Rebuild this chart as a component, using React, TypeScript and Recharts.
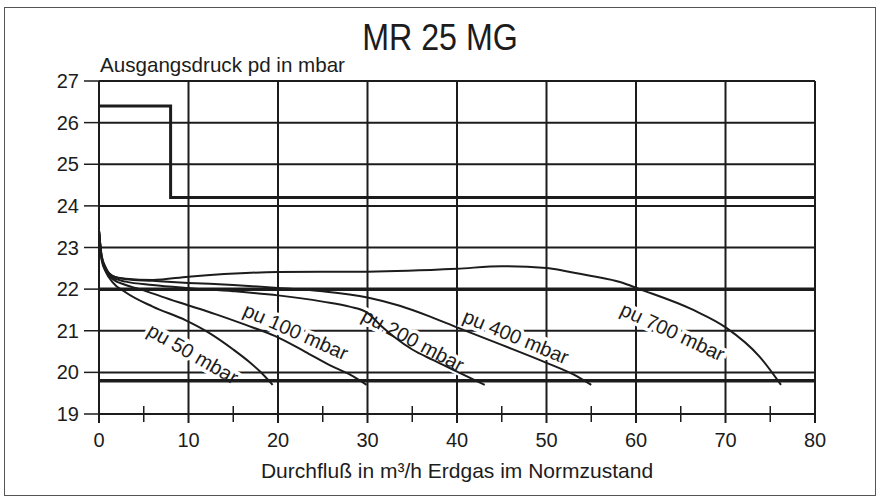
import React from 'react';
import { LineChart, Line, XAxis, YAxis, ReferenceLine, ReferenceDot } from 'recharts';

type Pt = { x: number; y: number };

const xTicks = [0, 10, 20, 30, 40, 50, 60, 70, 80];
const xMinorTicks = [5, 15, 25, 35, 45, 55, 65, 75];
const yTicks = [19, 20, 21, 22, 23, 24, 25, 26, 27];

// setpoint lines (thick)
const limitLines = [22, 19.8];

// closing pressure step
const stepCurve: Pt[] = [
  { x: 0, y: 26.4 },
  { x: 8, y: 26.4 },
  { x: 8, y: 24.2 },
  { x: 80, y: 24.2 },
];

const pu50: Pt[] = [
  { x: 0, y: 23.4 }, { x: 0.3, y: 22.7 }, { x: 0.8, y: 22.4 }, { x: 1.5, y: 22.17 },
  { x: 3, y: 21.92 }, { x: 6, y: 21.58 }, { x: 9.7, y: 21.25 }, { x: 12.3, y: 20.95 },
  { x: 15, y: 20.55 }, { x: 16.8, y: 20.25 }, { x: 18, y: 20.02 }, { x: 19.4, y: 19.7 },
];

const pu100: Pt[] = [
  { x: 0, y: 23.4 }, { x: 0.3, y: 22.72 }, { x: 0.8, y: 22.42 }, { x: 1.5, y: 22.25 },
  { x: 3, y: 22.1 }, { x: 5, y: 21.97 }, { x: 7, y: 21.82 }, { x: 9.7, y: 21.63 },
  { x: 13, y: 21.4 }, { x: 16.4, y: 21.14 }, { x: 19.7, y: 20.87 }, { x: 23, y: 20.5 },
  { x: 26, y: 20.15 }, { x: 28, y: 19.95 }, { x: 29.9, y: 19.7 },
];

const pu200: Pt[] = [
  { x: 0, y: 23.4 }, { x: 0.3, y: 22.75 }, { x: 0.8, y: 22.45 }, { x: 1.5, y: 22.28 },
  { x: 3, y: 22.18 }, { x: 6, y: 22.1 }, { x: 9.7, y: 22.03 }, { x: 15, y: 21.95 },
  { x: 20, y: 21.85 }, { x: 25, y: 21.7 }, { x: 28, y: 21.58 }, { x: 30, y: 21.43 },
  { x: 31.5, y: 21.12 }, { x: 33, y: 20.85 }, { x: 35, y: 20.55 }, { x: 37.3, y: 20.3 },
  { x: 40, y: 20.02 }, { x: 43.1, y: 19.7 },
];

const pu400: Pt[] = [
  { x: 0, y: 23.4 }, { x: 0.3, y: 22.78 }, { x: 0.8, y: 22.48 }, { x: 1.5, y: 22.32 },
  { x: 3, y: 22.24 }, { x: 6, y: 22.2 }, { x: 10, y: 22.15 }, { x: 15, y: 22.1 },
  { x: 20, y: 22.03 }, { x: 25, y: 21.95 }, { x: 30, y: 21.8 }, { x: 33.6, y: 21.6 },
  { x: 37, y: 21.34 }, { x: 40, y: 21.08 }, { x: 45, y: 20.66 }, { x: 50, y: 20.23 },
  { x: 53, y: 19.95 }, { x: 55, y: 19.7 },
];

const pu700: Pt[] = [
  { x: 0, y: 23.4 }, { x: 0.3, y: 22.8 }, { x: 0.8, y: 22.5 }, { x: 1.5, y: 22.32 },
  { x: 3, y: 22.25 }, { x: 6, y: 22.22 }, { x: 10, y: 22.3 }, { x: 20, y: 22.41 },
  { x: 30, y: 22.42 }, { x: 40, y: 22.49 }, { x: 45, y: 22.55 }, { x: 50, y: 22.51 },
  { x: 52.2, y: 22.43 }, { x: 55.2, y: 22.31 }, { x: 58.2, y: 22.17 }, { x: 60.4, y: 22.0 },
  { x: 66.4, y: 21.5 }, { x: 70.1, y: 21.07 }, { x: 73.8, y: 20.38 }, { x: 76.2, y: 19.7 },
];

const curves = [pu50, pu100, pu200, pu400, pu700];

// curve captions: anchor (centre) in data units and slope of the text
const captions = [
  { text: 'pu 50 mbar', x: 10.5, y: 20.45, angle: 30 },
  { text: 'pu 100 mbar', x: 22.0, y: 20.98, angle: 24 },
  { text: 'pu 200 mbar', x: 35.1, y: 20.78, angle: 28 },
  { text: 'pu 400 mbar', x: 46.6, y: 20.86, angle: 22.5 },
  { text: 'pu 700 mbar', x: 64.1, y: 20.98, angle: 25 },
];

const INK = '#1c1c1c';
const FONT = "'Liberation Sans', Arial, Helvetica, sans-serif";

const allXTicks = [...xTicks, ...xMinorTicks].sort((a, b) => a - b);

const XTick = (props: any) => {
  const { x, y, payload } = props;
  const major = payload.value % 10 === 0;
  return (
    <g>
      {major ? (
        <line x1={x} x2={x} y1={y} y2={y + 9} stroke={INK} strokeWidth={2} />
      ) : (
        <line x1={x} x2={x} y1={y - 8} y2={y + 8} stroke={INK} strokeWidth={1.5} />
      )}
      {major && (
        <text x={x} y={y + 33} textAnchor="middle" fontSize={20} fill={INK} fontFamily={FONT}>
          {payload.value}
        </text>
      )}
    </g>
  );
};

// caption drawn as the dot's shape; halo=true draws only the white knock-out
const makeCaption = (text: string, angle: number, halo: boolean) => (props: any) => {
  const { cx, cy } = props;
  return (
    <text
      x={cx}
      y={cy}
      textAnchor="middle"
      dominantBaseline="central"
      fontSize={20}
      fontFamily={FONT}
      fill={halo ? '#ffffff' : INK}
      stroke={halo ? '#ffffff' : 'none'}
      strokeWidth={halo ? 7 : 0}
      transform={`rotate(${angle} ${cx} ${cy})`}
    >
      {text}
    </text>
  );
};

const App: React.FC = () => {
  return (
    <div
      style={{
        position: 'absolute',
        left: 0,
        top: 0,
        width: 880,
        height: 501,
        background: '#ffffff',
        fontFamily: FONT,
        color: INK,
      }}
    >
      {/* frame */}
      <div
        style={{
          position: 'absolute',
          left: 4,
          top: 7,
          width: 872,
          height: 489,
          border: '1px solid #555',
          boxSizing: 'border-box',
        }}
      />

      {/* Title */}
      <div
        style={{
          position: 'absolute',
          left: 0,
          width: 880,
          top: 19,
          textAlign: 'center',
          fontSize: 37,
          lineHeight: '37px',
          transform: 'scaleX(0.87)',
        }}
      >
        MR 25 MG
      </div>

      <div style={{ position: 'absolute', left: 100, top: 55, fontSize: 20.6, lineHeight: '20px' }}>
        Ausgangsdruck pd in mbar
      </div>

      <div
        style={{
          position: 'absolute',
          left: 99,
          width: 716,
          top: 460,
          textAlign: 'center',
          fontSize: 21,
          lineHeight: '21px',
        }}
      >
        Durchfluß in m³/h Erdgas im Normzustand
      </div>

      <div style={{ position: 'absolute', left: 0, top: 0 }}>
        <LineChart width={880} height={501} margin={{ top: 81, right: 65, bottom: 57, left: 59 }}>
          <XAxis
            type="number"
            dataKey="x"
            domain={[0, 80]}
            ticks={allXTicks}
            interval={0}
            allowDataOverflow
            height={30}
            tickSize={0}
            tickMargin={0}
            tickLine={false}
            axisLine={{ stroke: INK, strokeWidth: 2 }}
            tick={<XTick />}
          />
          <YAxis
            type="number"
            dataKey="y"
            domain={[19, 27]}
            ticks={yTicks}
            interval={0}
            allowDataOverflow
            width={40}
            tickSize={15}
            tickMargin={5}
            tickLine={{ stroke: INK, strokeWidth: 1.5 }}
            axisLine={{ stroke: INK, strokeWidth: 2 }}
            tick={{ fill: INK, fontSize: 20, fontFamily: FONT }}
          />

          {/* grid */}
          {yTicks.map((v) => (
            <ReferenceLine key={`h${v}`} y={v} stroke={INK} strokeWidth={2} zIndex={100} />
          ))}
          {xTicks.map((v) => (
            <ReferenceLine key={`v${v}`} x={v} stroke={INK} strokeWidth={2} zIndex={100} />
          ))}

          {/* caption knock-outs in the grid, under the curves */}
          {captions.map((c) => (
            <ReferenceDot
              key={`k${c.text}`}
              x={c.x}
              y={c.y}
              r={0}
              zIndex={150}
              shape={makeCaption(c.text, c.angle, true)}
            />
          ))}

          {limitLines.map((v) => (
            <ReferenceLine key={`l${v}`} y={v} stroke={INK} strokeWidth={3.5} zIndex={200} />
          ))}

          <Line
            data={stepCurve}
            dataKey="y"
            type="linear"
            stroke={INK}
            strokeWidth={3}
            dot={false}
            isAnimationActive={false}
          />

          {curves.map((c, i) => (
            <Line
              key={i}
              data={c}
              dataKey="y"
              type="monotone"
              stroke={INK}
              strokeWidth={2}
              dot={false}
              isAnimationActive={false}
            />
          ))}

          {captions.map((c) => (
            <ReferenceDot
              key={`t${c.text}`}
              x={c.x}
              y={c.y}
              r={0}
              zIndex={900}
              shape={makeCaption(c.text, c.angle, false)}
            />
          ))}
        </LineChart>
      </div>
    </div>
  );
};

export default App;
